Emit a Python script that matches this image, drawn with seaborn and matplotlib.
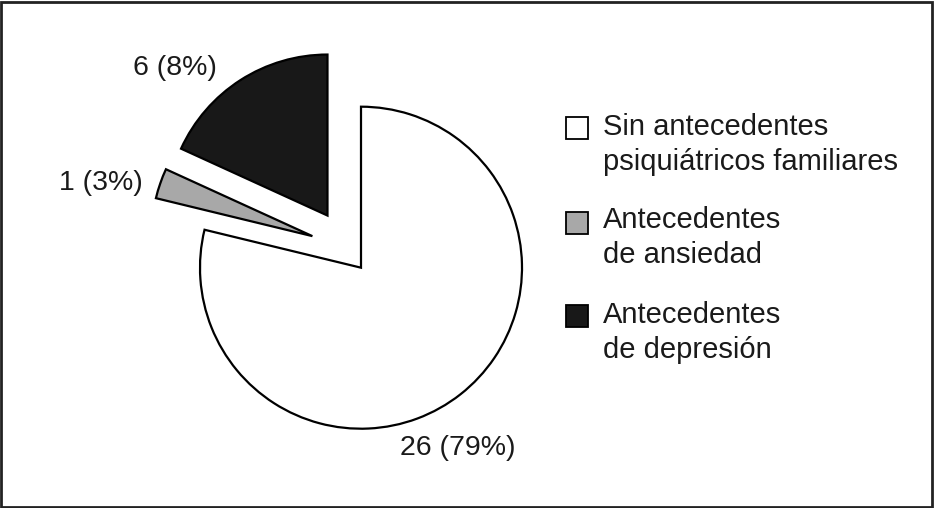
import numpy as np
import matplotlib
matplotlib.use("Agg")
import matplotlib.pyplot as plt
from matplotlib.patches import Rectangle
import seaborn as sns

# ---- data ----
categories = ["Sin antecedentes\npsiquiátricos familiares",
              "Antecedentes\nde ansiedad",
              "Antecedentes\nde depresión"]
counts = [26, 1, 6]
slice_labels = ["26 (79%)", "1 (3%)", "6 (8%)"]

# ---- style ----
colors = ["#ffffff", "#a8a8a8", "#181818"]
explode = [0.0, 0.36, 0.385]
label_pos = [(0.60, -1.162), (-1.615, 0.483), (-1.155, 1.197)]  # data coords, baseline-centered

sns.set_theme(style="white")
plt.rcParams["font.family"] = ["Liberation Sans", "DejaVu Sans"]

W, H = 934, 508
fig = plt.figure(figsize=(W / 100, H / 100), dpi=100)
fig.patch.set_facecolor("white")

# pie axes: centre at (361, 267.7) px, radius 161 px
R = 161.0
cx, cy = 361.0, 267.7
lim = 1.25
S = 2 * lim * R
ax = fig.add_axes([(cx - S / 2) / W, (H - cy - S / 2) / H, S / W, S / H])

wedges, _ = ax.pie(counts, colors=colors, startangle=90, counterclock=False,
                   explode=explode,
                   wedgeprops=dict(edgecolor="black", linewidth=1.6, clip_on=False))
# nudge the small slice's explode direction to match the reference
th = np.deg2rad(147)
wedges[1].set_center((explode[1] * np.cos(th), explode[1] * np.sin(th)))
ax.set_xlim(-lim, lim)
ax.set_ylim(-lim, lim)
ax.set_aspect("equal")
ax.axis("off")

for (x, y), t in zip(label_pos, slice_labels):
    ax.text(x, y, t, ha="center", va="baseline", fontsize=20.5, color="#1a1a1a")

# manual legend
sq = 22
leg_x = 566
sq_tops = [117, 212, 305]
base1 = [135, 228, 323]
line_gap = 35
for cat, col, top, b in zip(categories, colors, sq_tops, base1):
    fig.add_artist(Rectangle((leg_x / W, 1 - (top + sq) / H), sq / W, sq / H,
                             transform=fig.transFigure, facecolor=col,
                             edgecolor="black", linewidth=1.3))
    for i, line in enumerate(cat.split("\n")):
        fig.text(603 / W, 1 - (b + i * line_gap) / H, line, ha="left",
                 va="baseline", fontsize=21, color="#1a1a1a")

# outer frame
fig.add_artist(Rectangle((0.0015, 0.002), 0.9965, 0.995, transform=fig.transFigure,
                         fill=False, edgecolor="#222222", linewidth=2))

fig.savefig("out.png", dpi=100)
